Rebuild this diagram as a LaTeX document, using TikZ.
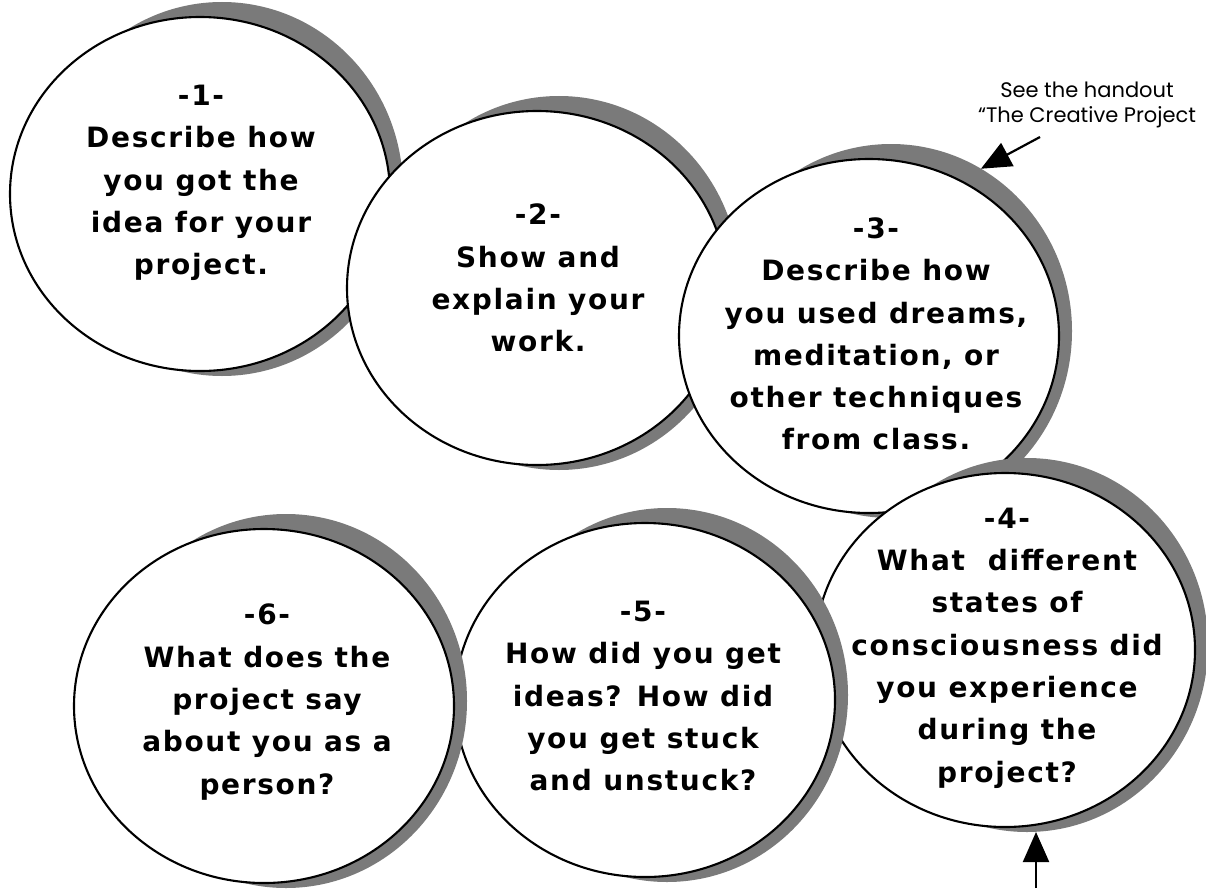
\documentclass[tikz,border=0pt]{standalone}
\usepackage{fontspec}
\usetikzlibrary{shapes.geometric,arrows.meta}
\newfontfamily\bodyfont[LetterSpace=6]{DejaVu Sans}
\newfontfamily\notefont{Poppins}
\definecolor{shadowgray}{RGB}{122,122,122}
\tikzset{
  bubble/.style={ellipse, draw=black, line width=2.1pt, fill=white,
    minimum width=380pt, minimum height=354pt, inner sep=0pt, outer sep=0pt},
  shade/.style={ellipse, fill=shadowgray, draw=none,
    minimum width=362pt, minimum height=374pt, inner sep=0pt, outer sep=0pt},
  qtext/.style={align=center, inner sep=0pt,
    font=\fontsize{28pt}{42.3pt}\selectfont\bodyfont\bfseries},
  notetext/.style={align=center, inner sep=0pt,
    font=\fontsize{21pt}{25pt}\selectfont\notefont},
  arr/.style={line width=2.2pt, -{Triangle[length=30pt,width=26pt]}},
}
\begin{document}
\begin{tikzpicture}[x=1pt,y=-1pt]
\useasboundingbox (0,0) rectangle (1206,888);
% 1
\node[shade] (s1) at (222,189) {};
\node[bubble] (e1) at (200,194) {};
\node[qtext] (t1) at (201,183) {-1-\\Describe how\\you got the\\idea for your\\project.};
% 2
\node[shade] (s2) at (559,283) {};
\node[bubble] (e2) at (537,288) {};
\node[qtext] (t2) at (538,278) {-2-\\Show and\\explain your\\work.};
% 3
\node[shade] (s3) at (891,331) {};
\node[bubble] (e3) at (869,336) {};
\node[qtext] (t3) at (876,334) {-3-\\Describe how\\you used dreams,\\meditation, or\\other techniques\\from class.};
% 4
\node[shade] (s4) at (1027,645) {};
\node[bubble] (e4) at (1005,650) {};
\node[qtext] (t4) at (1007,648) {-4-\\What\ \ different\\states of\\consciousness did\\you experience\\during the\\project?};
% 5
\node[shade] (s5) at (667,695) {};
\node[bubble] (e5) at (645,700) {};
\node[qtext] (t5) at (643,696) {-5-\\How did you get\\ideas? How did\\you get stuck\\and unstuck?};
% 6
\node[shade] (s6) at (286,701) {};
\node[bubble] (e6) at (264,706) {};
\node[qtext] (t6) at (267,702) {-6-\\What does the\\project say\\about you as a\\person?};
% note and arrows
\node[notetext] (note) at (1087,105) {See the handout\\“The Creative Project};
\coordinate (a1) at (1040,137);
\draw[arr] (a1) -- (s3.61);
\coordinate (a2) at (1036,888);
\draw[arr] (a2) -- (a2 |- s4.south);
\end{tikzpicture}
\end{document}
